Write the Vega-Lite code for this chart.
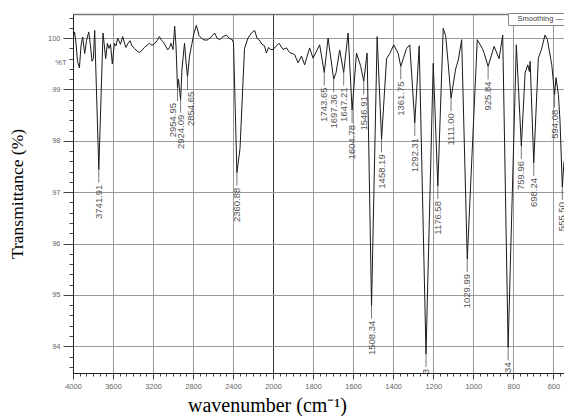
{
  "$schema": "https://vega.github.io/schema/vega-lite/v6.json",
  "width": 491,
  "height": 359,
  "autosize": {"type": "none"},
  "padding": {"left": 73, "top": 14, "right": 0, "bottom": 43},
  "background": "white",
  "config": {
    "view": {"stroke": null},
    "axis": {"labelFont": "Liberation Sans", "labelColor": "#666", "tickColor": "#444", "domainColor": "#222", "gridColor": "#9a9a9a", "gridWidth": 1, "titleFont": "Liberation Serif", "titleFontWeight": "normal", "titleColor": "#000"}
  },
  "datasets": {
    "spectrum": [
      {"w":4000,"T":100.0},{"w":3985,"T":100.12},{"w":3970,"T":99.9},{"w":3955,"T":99.55},{"w":3936,"T":99.42},{"w":3920,"T":99.85},{"w":3903,"T":100.02},{"w":3883,"T":99.7},{"w":3865,"T":99.95},{"w":3843,"T":100.12},{"w":3825,"T":99.85},{"w":3810,"T":99.55},{"w":3796,"T":99.6},{"w":3783,"T":100.15},{"w":3742,"T":97.44},{"w":3700,"T":100.1},{"w":3673,"T":99.6},{"w":3656,"T":99.9},{"w":3640,"T":99.8},{"w":3625,"T":99.88},{"w":3607,"T":99.5},{"w":3586,"T":99.9},{"w":3570,"T":99.85},{"w":3553,"T":100.0},{"w":3526,"T":99.88},{"w":3503,"T":100.03},{"w":3485,"T":99.9},{"w":3470,"T":99.82},{"w":3450,"T":99.9},{"w":3430,"T":99.95},{"w":3410,"T":99.85},{"w":3386,"T":99.8},{"w":3360,"T":99.75},{"w":3336,"T":99.72},{"w":3310,"T":99.76},{"w":3286,"T":99.82},{"w":3260,"T":99.86},{"w":3236,"T":99.9},{"w":3210,"T":99.86},{"w":3186,"T":99.89},{"w":3160,"T":99.95},{"w":3136,"T":100.03},{"w":3115,"T":99.96},{"w":3096,"T":99.92},{"w":3075,"T":99.85},{"w":3053,"T":99.77},{"w":3035,"T":99.82},{"w":3020,"T":99.9},{"w":3000,"T":99.78},{"w":2983,"T":100.23},{"w":2970,"T":99.85},{"w":2955,"T":99.03},{"w":2945,"T":99.2},{"w":2935,"T":99.0},{"w":2924,"T":98.8},{"w":2910,"T":99.4},{"w":2885,"T":99.9},{"w":2868,"T":99.5},{"w":2855,"T":99.25},{"w":2835,"T":99.65},{"w":2810,"T":99.9},{"w":2790,"T":100.1},{"w":2766,"T":100.25},{"w":2740,"T":100.05},{"w":2700,"T":99.97},{"w":2660,"T":99.96},{"w":2620,"T":100.02},{"w":2583,"T":100.1},{"w":2560,"T":100.0},{"w":2533,"T":99.97},{"w":2500,"T":100.03},{"w":2466,"T":100.06},{"w":2440,"T":100.0},{"w":2406,"T":99.97},{"w":2395,"T":99.9},{"w":2361,"T":97.38},{"w":2330,"T":97.85},{"w":2285,"T":99.8},{"w":2250,"T":100.0},{"w":2216,"T":100.1},{"w":2183,"T":100.15},{"w":2160,"T":100.0},{"w":2140,"T":99.97},{"w":2110,"T":99.88},{"w":2085,"T":99.85},{"w":2066,"T":99.71},{"w":2045,"T":99.82},{"w":2025,"T":99.78},{"w":2000,"T":99.78},{"w":1970,"T":99.9},{"w":1950,"T":99.78},{"w":1933,"T":99.81},{"w":1917,"T":99.72},{"w":1892,"T":99.68},{"w":1875,"T":99.52},{"w":1858,"T":99.65},{"w":1842,"T":99.48},{"w":1817,"T":99.81},{"w":1800,"T":99.61},{"w":1767,"T":99.87},{"w":1744,"T":99.33},{"w":1725,"T":100.0},{"w":1697,"T":99.2},{"w":1685,"T":99.33},{"w":1667,"T":99.77},{"w":1647,"T":99.33},{"w":1625,"T":100.1},{"w":1605,"T":98.6},{"w":1583,"T":99.71},{"w":1562,"T":99.45},{"w":1547,"T":99.16},{"w":1530,"T":99.71},{"w":1508,"T":94.79},{"w":1480,"T":100.03},{"w":1458,"T":98.03},{"w":1433,"T":99.6},{"w":1417,"T":99.7},{"w":1397,"T":99.87},{"w":1375,"T":99.7},{"w":1362,"T":99.45},{"w":1333,"T":99.8},{"w":1317,"T":99.87},{"w":1292,"T":98.35},{"w":1270,"T":99.85},{"w":1236,"T":93.85},{"w":1200,"T":99.51},{"w":1177,"T":97.12},{"w":1150,"T":100.19},{"w":1138,"T":100.05},{"w":1125,"T":99.5},{"w":1111,"T":98.83},{"w":1088,"T":99.4},{"w":1075,"T":99.57},{"w":1058,"T":99.97},{"w":1030,"T":95.7},{"w":980,"T":99.97},{"w":955,"T":99.8},{"w":945,"T":99.7},{"w":926,"T":99.45},{"w":896,"T":99.84},{"w":871,"T":99.6},{"w":853,"T":100.06},{"w":826,"T":93.98},{"w":785,"T":99.87},{"w":760,"T":97.9},{"w":741,"T":99.33},{"w":728,"T":99.48},{"w":720,"T":99.35},{"w":716,"T":99.55},{"w":698,"T":97.57},{"w":675,"T":99.61},{"w":658,"T":99.8},{"w":642,"T":100.06},{"w":630,"T":99.97},{"w":608,"T":99.48},{"w":594,"T":98.9},{"w":587,"T":99.23},{"w":575,"T":98.9},{"w":567,"T":98.4},{"w":555.5,"T":97.1},{"w":547,"T":97.6}
    ],
    "peaks": [
      {"label":"3741.91","w":3742,"T":97.44},
      {"label":"2954.95","w":2955,"T":99.03},
      {"label":"2924.09","w":2924,"T":98.8},
      {"label":"2854.65","w":2855,"T":99.25},
      {"label":"2360.88","w":2361,"T":97.38},
      {"label":"1743.65","w":1744,"T":99.33},
      {"label":"1697.36","w":1697,"T":99.2},
      {"label":"1647.21","w":1647,"T":99.33},
      {"label":"1604.78","w":1605,"T":98.6},
      {"label":"1546.91","w":1547,"T":99.16},
      {"label":"1508.34","w":1508,"T":94.79},
      {"label":"1458.19","w":1458,"T":98.03},
      {"label":"1361.75","w":1362,"T":99.45},
      {"label":"1292.31","w":1292,"T":98.35},
      {"label":"1236.43","w":1236,"T":93.85},
      {"label":"1176.58","w":1177,"T":97.12},
      {"label":"1111.00","w":1111,"T":98.83},
      {"label":"1029.99","w":1030,"T":95.7},
      {"label":"925.84","w":926,"T":99.45},
      {"label":"826.34","w":826,"T":93.98},
      {"label":"759.96","w":760,"T":97.9},
      {"label":"698.24","w":698,"T":97.57},
      {"label":"594.08","w":594,"T":98.9},
      {"label":"555.50","w":555.5,"T":97.1}
    ]
  },
  "encoding": {
    "x": {
      "field": "w", "type": "quantitative",
      "scale": {"domain": [4000, 2000, 547], "range": [0, 200, 491], "nice": false, "zero": false},
      "axis": {
        "title": "wavenumber (cm⁻¹)",
        "titleFontSize": 20,
        "titleX": 194, "titleY": 32, "titleAnchor": null, "titleAlign": "center", "titleBaseline": "middle",
        "values": [4000,3933.33,3866.67,3800,3733.33,3666.67,3600,3533.33,3466.67,3400,3333.33,3266.67,3200,3133.33,3066.67,3000,2933.33,2866.67,2800,2733.33,2666.67,2600,2533.33,2466.67,2400,2333.33,2266.67,2200,2133.33,2066.67,2000,1966.67,1933.33,1900,1866.67,1833.33,1800,1766.67,1733.33,1700,1666.67,1633.33,1600,1566.67,1533.33,1500,1466.67,1433.33,1400,1366.67,1333.33,1300,1266.67,1233.33,1200,1166.67,1133.33,1100,1066.67,1033.33,1000,966.67,933.33,900,866.67,833.33,800,766.67,733.33,700,666.67,633.33,600,566.67],
        "labelExpr": "indexof([4000,3600,3200,2800,2400,2000,1800,1600,1400,1200,1000,800,600], datum.value) >= 0 ? datum.label : ''",
        "format": "d",
        "labelFontSize": 7.5,
        "labelPadding": 3,
        "labelFlush": false,
        "labelOverlap": false,
        "tickSize": {"condition": {"test": "indexof([4000,3600,3200,2800,2400,2000,1800,1600,1400,1200,1000,800,600], datum.value) >= 0", "value": 6}, "value": 3},
        "grid": true,
        "gridOpacity": {"condition": {"test": "indexof([4000,3600,3200,2800,2400,2000,1800,1600,1400,1200,1000,800,600], datum.value) >= 0", "value": 1}, "value": 0},
        "gridColor": {"condition": {"test": "datum.value == 2000", "value": "#333"}, "value": "#9a9a9a"}
      }
    },
    "y": {
      "field": "T", "type": "quantitative",
      "scale": {"domain": [93.48, 100.47], "nice": false, "zero": false},
      "axis": {
        "title": "Transmittance (%)",
        "titleFontSize": 17.5,
        "titleX": -56, "titleY": 179.5, "titleAngle": 270, "titleAlign": "center", "titleBaseline": "middle", "titleAnchor": null,
        "values": [93.6,93.8,94,94.2,94.4,94.6,94.8,95,95.2,95.4,95.6,95.8,96,96.2,96.4,96.6,96.8,97,97.2,97.4,97.6,97.8,98,98.2,98.4,98.6,98.8,99,99.2,99.4,99.6,99.8,100,100.2,100.4,100.47],
        "labelExpr": "abs(datum.value - round(datum.value)) < 0.001 ? format(datum.value, 'd') : (abs(datum.value - 99.6) < 0.001 ? '%T' : '')",
        "labelFontSize": 7.5,
        "labelPadding": 3,
        "labelOverlap": false,
        "labelFlush": false,
        "labelBaseline": {"condition": {"test": "abs(datum.value - 99.6) < 0.001", "value": "top"}, "value": "middle"},
        "tickSize": {"condition": {"test": "abs(datum.value - round(datum.value)) < 0.001", "value": 10}, "value": 4},
        "tickOpacity": {"condition": {"test": "datum.value > 100.45", "value": 0}, "value": 1},
        "grid": true,
        "gridOpacity": {"condition": {"test": "abs(datum.value - round(datum.value)) < 0.001 || datum.value > 100.45", "value": 1}, "value": 0},
        "gridColor": {"condition": {"test": "datum.value > 100.45", "value": "#777"}, "value": "#9a9a9a"},
        "gridWidth": {"condition": {"test": "datum.value > 100.45", "value": 1.6}, "value": 1}
      }
    }
  },
  "layer": [
    {
      "data": {"name": "spectrum"},
      "mark": {"type": "line", "strokeWidth": 1, "clip": true, "interpolate": "linear"},
      "encoding": {
        "color": {
          "datum": "Smoothing",
          "scale": {"range": ["#1a1a1a"]},
          "legend": {
            "title": null, "orient": "none", "legendX": 435, "legendY": -1,
            "symbolSize": 0, "symbolOpacity": 0, "symbolStrokeWidth": 0,
            "labelFont": "Liberation Sans", "labelFontSize": 7.5, "labelColor": "#444",
            "labelExpr": "datum.label + '  —'",
            "labelOffset": 0, "padding": 2, "strokeColor": "#888", "fillColor": "white"
          }
        }
      }
    },
    {
      "data": {"name": "peaks"},
      "mark": {"type": "rule", "y2Offset": 13, "color": "#555", "strokeWidth": 0.8, "clip": true},
      "encoding": {"y2": {"field": "T"}}
    },
    {
      "data": {"name": "peaks"},
      "mark": {
        "type": "text", "angle": 270, "align": "right", "baseline": "middle",
        "dx": -15,
        "dy": {"expr": "datum.label === '2954.95' ? -5 : (datum.label === '2854.65' ? 3 : 0)"},
        "font": "Liberation Sans", "fontSize": 9.5, "color": "#555", "clip": true
      },
      "encoding": {"text": {"field": "label"}}
    }
  ]
}
